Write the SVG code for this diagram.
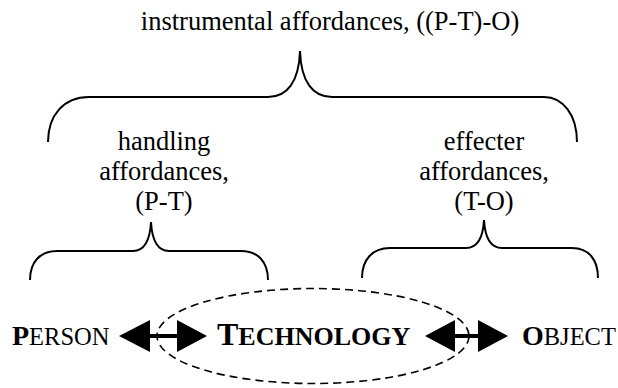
<svg xmlns="http://www.w3.org/2000/svg" width="618" height="388" viewBox="0 0 618 388">
<style>
.t{font-family:"Liberation Serif","Times New Roman",serif;font-size:26.5px;fill:#000;text-anchor:middle}
.k{font-family:"Liberation Serif","Times New Roman",serif;fill:#000}
.br{fill:none;stroke:#000;stroke-width:2}
.el{fill:none;stroke:#000;stroke-width:1.6;stroke-dasharray:8 5}
.ar{fill:#000;stroke:none}
</style>
<rect width="618" height="388" fill="#fff"/>
<g id="instrumental">
<text class="t" x="330" y="30">instrumental affordances, ((P-T)-O)</text>
</g>
<g id="brace-instrumental">
<path class="br" d="M48,142 C48,115 64,97 89,97 L268,97 C287,97 299,82 300,51 C301,82 313,97 332,97 L544,97 C563,97 577,115 577,142"/>
</g>
<g id="handling">
<text class="t" x="164" y="150">handling</text>
<text class="t" x="164" y="180">affordances,</text>
<text class="t" x="164" y="210">(P-T)</text>
</g>
<g id="brace-handling">
<path class="br" d="M30,280 C30,262 40,251 57,251 L133,251 C144,251 150,240 151,222 C152,240 158,251 169,251 L241,251 C258,251 268,262 268,280"/>
</g>
<g id="effecter">
<text class="t" x="484" y="150">effecter</text>
<text class="t" x="484" y="180">affordances,</text>
<text class="t" x="484" y="210">(T-O)</text>
</g>
<g id="brace-effecter">
<path class="br" d="M362,278 C362,260 372,248 390,248 L466,248 C477,248 483,238 484,220 C485,238 491,248 502,248 L572,248 C589,248 598,260 598,278"/>
</g>
<g id="technology-ellipse">
<ellipse class="el" cx="313" cy="336" rx="156" ry="47.5"/>
</g>
<g id="person">
<text class="k" x="12" y="345"><tspan font-weight="bold" font-size="28">P</tspan><tspan font-size="24.5">ERSON</tspan></text>
</g>
<g id="technology">
<text class="k" x="217" y="345" font-weight="bold"><tspan font-size="32">T</tspan><tspan font-size="26">ECHNOLOGY</tspan></text>
</g>
<g id="object">
<text class="k" x="522" y="345"><tspan font-weight="bold" font-size="28">O</tspan><tspan font-size="24.5">BJECT</tspan></text>
</g>
<g id="connectors">
<polygon class="ar" points="119,336 150,320 150,334 177,334 177,320 207,336 177,352 177,338 150,338 150,352"/>
<polygon class="ar" points="425,336 455,320 455,334 478,334 478,320 508,336 478,352 478,338 455,338 455,352"/>
</g>
</svg>
